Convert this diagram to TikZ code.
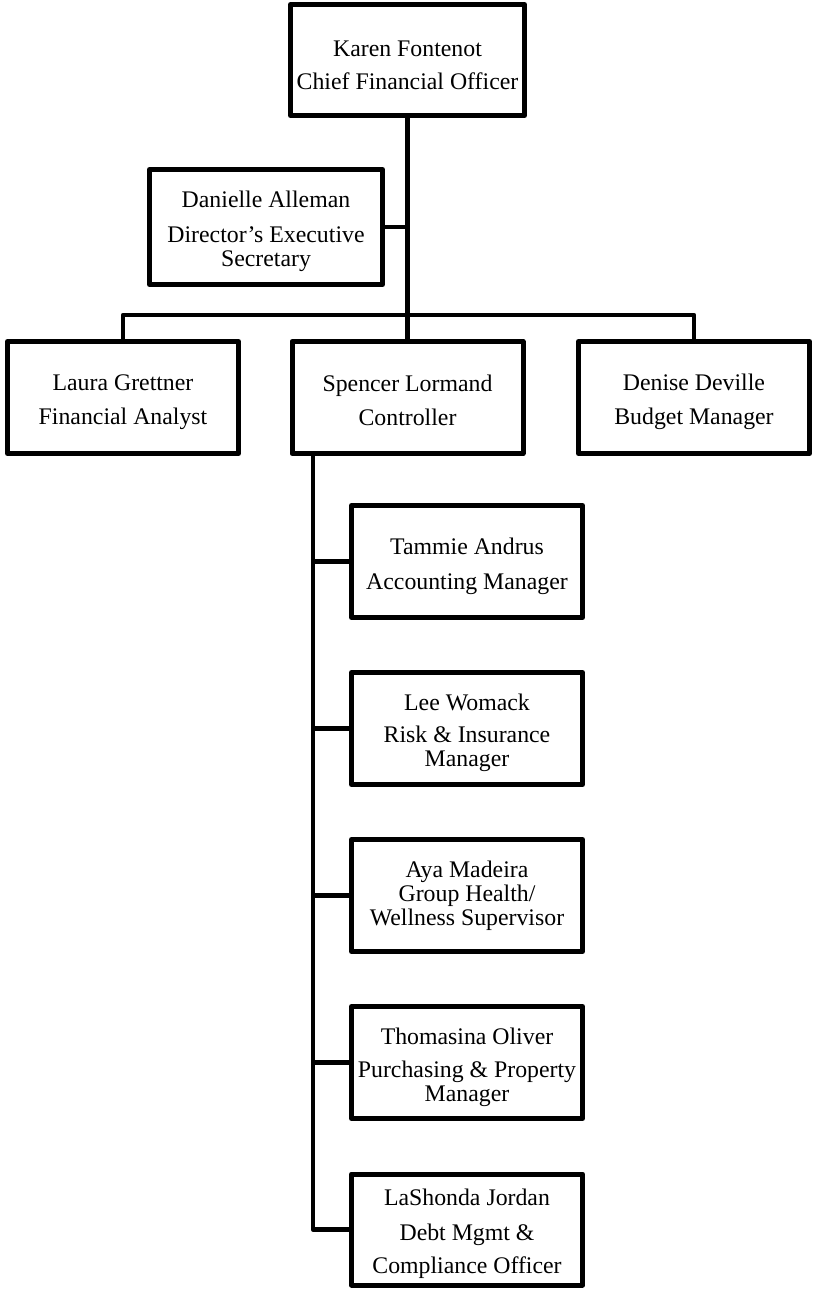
\documentclass[tikz,border=0pt]{standalone}
\usepackage{fontspec}
\setmainfont{Liberation Serif}
\newcommand\toppad{\rule{0pt}{26pt}}
\begin{document}
\begin{tikzpicture}[x=1pt,y=-1pt,
  box/.style={draw=black, line width=5pt, line join=round, fill=white, inner sep=1pt,
    align=center, font=\fontsize{23.8}{24}\selectfont},
  topbox/.style={box, minimum width=234pt, minimum height=111pt},
  rowbox/.style={box, minimum width=231pt, minimum height=112pt},
  colbox/.style={box, minimum width=231pt, minimum height=112pt},
  conn/.style={draw=black, line width=4.6pt, line join=round}]
\useasboundingbox (0,0) rectangle (814,1291);
% nodes
\node[topbox] (karen) at (407.5,60) {\toppad Karen Fontenot\\[9pt]Chief Financial Officer};
\node[box, minimum width=233pt, minimum height=115pt] (danielle) at (266,227) {\toppad Danielle Alleman\\[11pt]Director’s Executive\\Secretary};
\node[rowbox] (laura) at (123,397.5) {\toppad Laura Grettner\\[10pt]Financial Analyst};
\node[rowbox] (spencer) at (407.5,397.5) {\toppad Spencer Lormand\\[10pt]Controller\rule[-5pt]{0pt}{0pt}};
\node[rowbox] (denise) at (694,397.5) {\toppad Denise Deville\\[10pt]Budget Manager};
\node[colbox] (tammie) at (467,561.5) {\toppad Tammie Andrus\\[11pt]Accounting Manager};
\node[colbox] (lee) at (467,728.5) {\toppad Lee Womack\\[8pt]Risk \& Insurance\\Manager};
\node[colbox] (aya) at (467,895.5) {Aya Madeira\\Group Health/\\Wellness Supervisor};
\node[colbox] (thomasina) at (467,1062.5) {\toppad Thomasina Oliver\\[9pt]Purchasing \& Property\\Manager};
\node[colbox, minimum height=111pt] (lashonda) at (467,1229.5) {\toppad LaShonda Jordan\\[11pt]Debt Mgmt \&\\[9pt]Compliance Officer};
% coordinates
\coordinate (bar) at (407.5,315);
\coordinate (trunk) at (313,456);
% connectors
\draw[conn] (karen.south) -- (bar);
\draw[conn] (danielle.east) -- (danielle.east -| bar);
\draw[conn] (laura.north) |- (bar) -| (denise.north);
\draw[conn] (bar) -- (spencer.north);
\draw[conn] (trunk) |- (lashonda.west);
\draw[conn] (tammie.west) -- (tammie.west -| trunk);
\draw[conn] (lee.west) -- (lee.west -| trunk);
\draw[conn] (aya.west) -- (aya.west -| trunk);
\draw[conn] (thomasina.west) -- (thomasina.west -| trunk);
\end{tikzpicture}
\end{document}
